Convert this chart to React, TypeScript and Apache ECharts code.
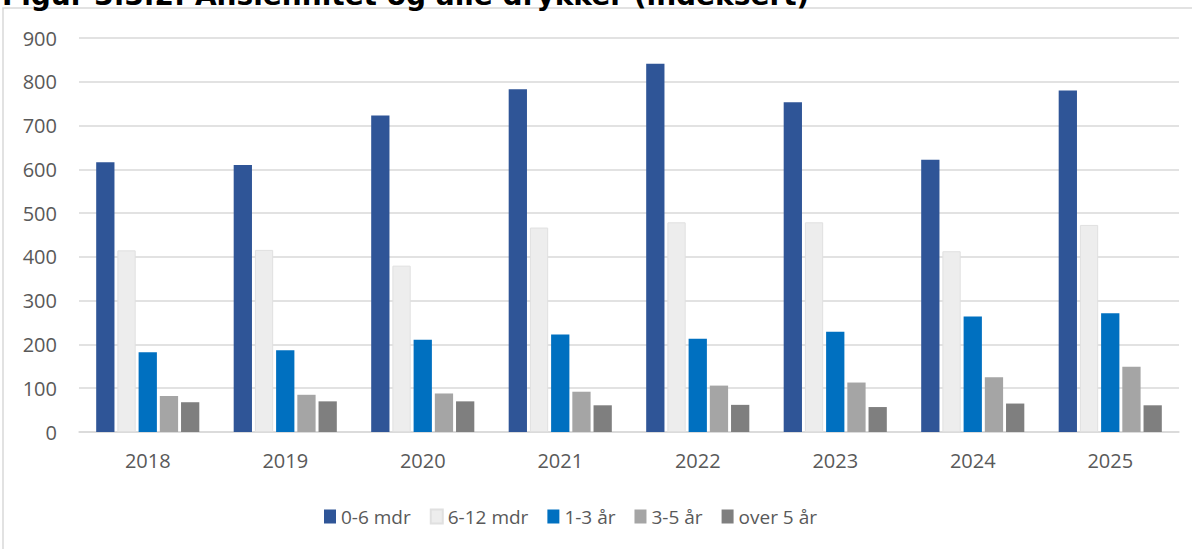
import React, { useEffect, useRef } from "react";
import * as echarts from "echarts";

const years = ["2018", "2019", "2020", "2021", "2022", "2023", "2024", "2025"];
const seriesNames = ["0-6 mdr", "6-12 mdr", "1-3 år", "3-5 år", "over 5 år"];
const m0_6 = [616, 610, 723, 783, 841, 753, 622, 780];
const m6_12 = [415, 416, 380, 467, 479, 479, 413, 473];
const y1_3 = [182, 187, 211, 223, 213, 229, 264, 271];
const y3_5 = [82, 85, 88, 92, 106, 113, 125, 149];
const over5 = [68, 70, 70, 61, 62, 57, 65, 61];
const yTicks = { min: 0, max: 900, interval: 100 };
const colors = ["#2F5597", "#EDEDED", "#0070C0", "#A5A5A5", "#7F7F7F"];
const title = "Figur 3.3.2: Ansiennitet og alle drykker (indeksert)";

export default function App() {
  const ref = useRef<HTMLDivElement>(null);
  useEffect(() => {
    document.body.style.margin = "0";
    const chart = echarts.init(ref.current!, undefined, { renderer: "svg" });
    const data = [m0_6, m6_12, y1_3, y3_5, over5];
    const font = "'Open Sans', sans-serif";
    chart.setOption({
      animation: false,
      backgroundColor: "#ffffff",
      textStyle: { fontFamily: font },
      graphic: [
        {
          type: "rect",
          shape: { x: 3, y: 8, width: 1200, height: 600 },
          style: { fill: "none", stroke: "#d9d9d9", lineWidth: 1.5 },
          silent: true,
        },
        {
          type: "text",
          x: 2,
          y: 9,
          style: {
            text: title,
            font: "bold 28px 'DejaVu Sans', Verdana, sans-serif",
            fill: "#000000",
            textVerticalAlign: "bottom",
          },
        },
      ],
      grid: { left: 79, right: 13, top: 38, bottom: 117 },
      legend: {
        left: 324,
        top: 507,
        padding: 0,
        itemWidth: 12,
        itemHeight: 14,
        itemGap: 19,
        icon: "rect",
        textStyle: { fontSize: 19, color: "#595959", fontFamily: font },
        data: seriesNames,
      },
      xAxis: {
        type: "category",
        data: years,
        axisTick: { show: false },
        axisLine: { lineStyle: { color: "#d9d9d9", width: 1.5 } },
        axisLabel: { fontSize: 20, color: "#595959", margin: 18, fontFamily: font },
      },
      yAxis: {
        type: "value",
        min: yTicks.min,
        max: yTicks.max,
        interval: yTicks.interval,
        axisLine: { show: false },
        axisTick: { show: false },
        splitLine: { lineStyle: { color: "#d9d9d9", width: 1.5 } },
        axisLabel: { fontSize: 20, color: "#595959", margin: 22, fontFamily: font },
      },
      series: seriesNames.map((name, i) => ({
        name,
        type: "bar",
        data: data[i],
        barGap: "16%",
        barCategoryGap: "25%",
        itemStyle: {
          color: colors[i],
          borderColor: i === 1 ? "#E0E0E0" : undefined,
          borderWidth: i === 1 ? 1 : 0,
        },
      })),
    });
    return () => chart.dispose();
  }, []);
  return <div ref={ref} style={{ width: 1192, height: 549 }} />;
}
